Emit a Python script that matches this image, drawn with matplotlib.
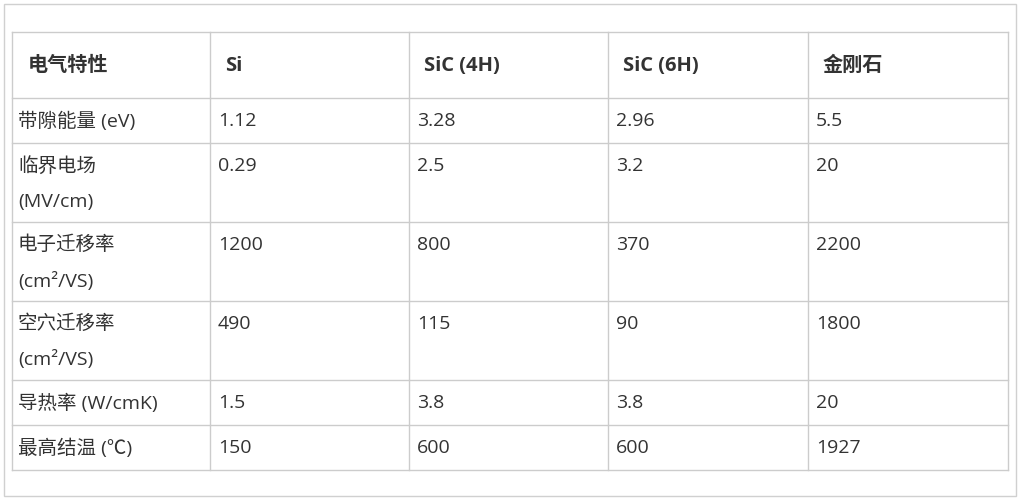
import matplotlib
matplotlib.use("Agg")
import matplotlib.pyplot as plt
from matplotlib.patches import Rectangle

plt.rcParams['font.family'] = ['Open Sans', 'Noto Sans CJK SC', 'DejaVu Sans']

headers = ["电气特性", "Si", "SiC (4H)", "SiC (6H)", "金刚石"]
properties = ["带隙能量 (eV)", "临界电场\n(MV/cm)", "电子迁移率\n(cm²/VS)",
              "空穴迁移率\n(cm²/VS)", "导热率 (W/cmK)", "最高结温 (℃)"]
si = ["1.12", "0.29", "1200", "490", "1.5", "150"]
sic4h = ["3.28", "2.5", "800", "115", "3.8", "600"]
sic6h = ["2.96", "3.2", "370", "90", "3.8", "600"]
diamond = ["5.5", "20", "2200", "1800", "20", "1927"]

col_x = [12, 210, 409, 608, 808, 1008]
row_y = [32, 98, 143, 222, 301, 380, 425, 470]

fig = plt.figure(figsize=(10.2, 5.03), dpi=100)
ax = fig.add_axes([0, 0, 1, 1])
ax.set_xlim(0, 1020)
ax.set_ylim(503, 0)
ax.axis('off')

ax.add_patch(Rectangle((4, 4), 1012, 492, fill=False, edgecolor='#d0d0d0', lw=1))
lc = '#cccccc'
for x in col_x:
    ax.plot([x, x], [row_y[0], row_y[-1]], color=lc, lw=1)
for y in row_y:
    ax.plot([col_x[0], col_x[-1]], [y, y], color=lc, lw=1)

tc = '#333333'
for j, h in enumerate(headers):
    ax.text(col_x[j] + (16 if j == 0 else 15), (row_y[0] + row_y[1]) / 2 + 1, h,
            fontsize=14.5, fontweight='bold', color=tc, va='center', ha='left')

columns = [properties, si, sic4h, sic6h, diamond]
for i in range(len(properties)):
    top = row_y[i + 1]
    for j, col in enumerate(columns):
        lines = col[i].split("\n")
        for k, ln in enumerate(lines):
            ax.text(col_x[j] + (6 if j == 0 else 8), top + 23 + 36 * k, ln,
                    fontsize=14, color=tc, va='center', ha='left')

fig.savefig("out.png", dpi=100)
